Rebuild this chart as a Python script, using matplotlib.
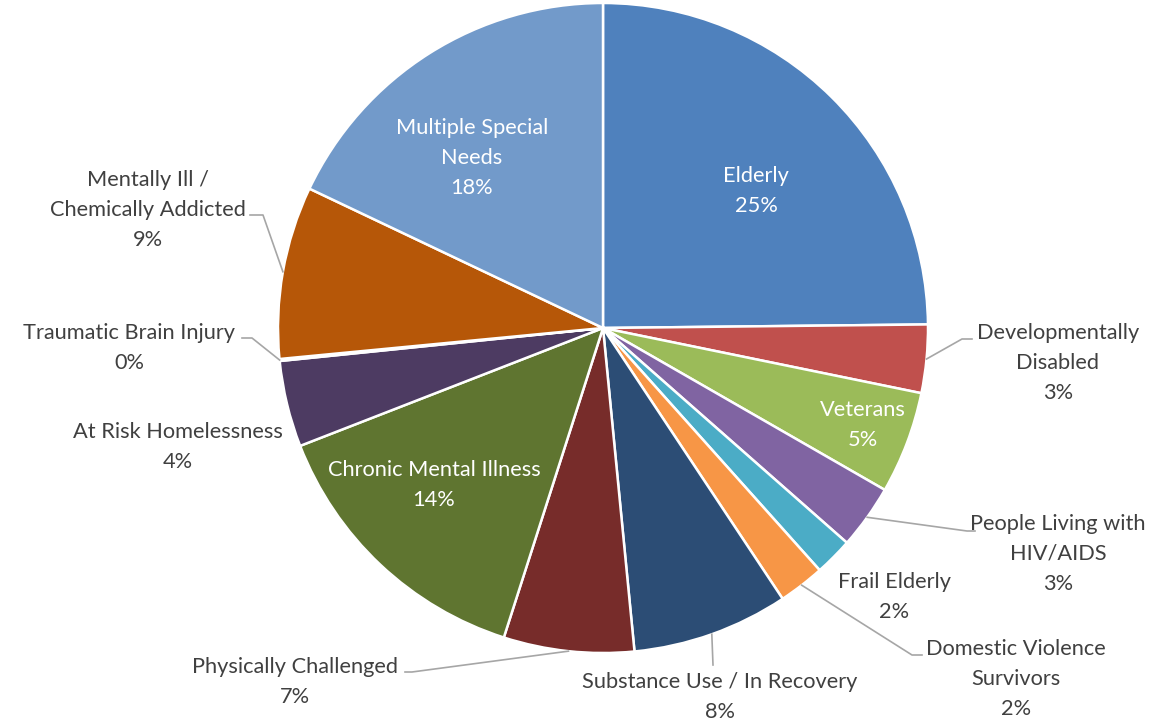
import matplotlib.pyplot as plt
import numpy as np

plt.rcParams['font.family'] = ['Lato', 'DejaVu Sans']

# data (clockwise from 12 o'clock)
categories = ["Elderly", "Developmentally\nDisabled", "Veterans", "People Living with\nHIV/AIDS",
              "Frail Elderly", "Domestic Violence\nSurvivors", "Substance Use / In Recovery",
              "Physically Challenged", "Chronic Mental Illness", "At Risk Homelessness",
              "Traumatic Brain Injury", "Mentally Ill /\nChemically Addicted", "Multiple Special\nNeeds"]
shares = [24.9, 3.4, 5.1, 3.2, 1.9, 2.3, 7.8, 6.5, 14.2, 4.3, 0.1, 8.6, 18.0]
pct_labels = ["25%", "3%", "5%", "3%", "2%", "2%", "8%", "7%", "14%", "4%", "0%", "9%", "18%"]
colors = ["#4F81BD", "#C0504D", "#9BBB59", "#8064A2", "#4BACC6", "#F79646", "#2C4D75",
          "#772C2A", "#5F7530", "#4D3B62", "#276A7C", "#B65708", "#729ACA"]

# layout: label centre in pixels, inside flag, leader (elbow, end) in pixels or None
CX, CY, R = 603, 328, 325
label_pos = [(756, 191), (1058, 363), (863, 425), (1058, 554), (894, 597), (1016, 679),
             (720, 697), (295, 682), (434, 485), (178, 447), (129, 348), (148, 210), (472, 158)]
inside = [True, False, True, False, False, False, False, False, True, False, False, False, True]
leaders = [None, ((962, 339), (972, 339)), None, ((967, 531), (975, 531)), None,
           ((912, 655), (922, 655)), ((713, 665), (713, 665)), ((412, 672), (405, 672)),
           None, None, ((252, 338), (242, 338)), ((263, 215), (250, 215)), None]


def px(x, y):
    return (x - CX) / R, (CY - y) / R


fig = plt.figure(figsize=(11.71, 7.21), dpi=100)
ax = fig.add_axes([(CX - R) / 1171, (721 - CY - R) / 721, 2 * R / 1171, 2 * R / 721])
wedges, _ = ax.pie(shares, colors=colors, startangle=90, counterclock=False, radius=1,
                   wedgeprops=dict(edgecolor="white", linewidth=1.8))
ax.set_xlim(-1, 1)
ax.set_ylim(-1, 1)
ax.axis("off")

for i, w in enumerate(wedges):
    tx, ty = px(*label_pos[i])
    col = "white" if inside[i] else "#404040"
    ax.text(tx, ty, categories[i] + "\n" + pct_labels[i], ha="center", va="center",
            fontsize=15.7, color=col, linespacing=1.63, clip_on=False)
    if leaders[i] is not None:
        mid = np.deg2rad((w.theta1 + w.theta2) / 2)
        sx, sy = np.cos(mid), np.sin(mid)
        ex, ey = px(*leaders[i][0])
        fx, fy = px(*leaders[i][1])
        ax.plot([sx, ex, fx], [sy, ey, fy], color="#A6A6A6", lw=1.2, clip_on=False)

fig.savefig("out.png", dpi=100)
